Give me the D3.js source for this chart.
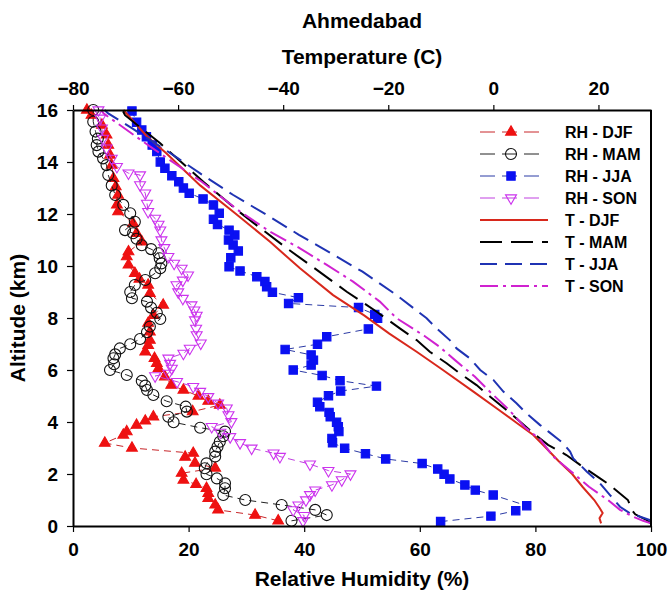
<!DOCTYPE html>
<html>
<head>
<meta charset="utf-8">
<script src="https://cdn.jsdelivr.net/npm/d3@7"></script>
<style>
  body { margin: 0; background: #ffffff; }
</style>
</head>
<body>
<svg id="chart" width="670" height="599"></svg>
<script>
// RH profiles (altitude km, relative humidity %)
const djfAlt = [0.2,0.42,0.62,0.81,1.06,1.26,1.45,1.6,1.77,2.03,2.23,2.42,2.65,2.8,3.0,3.19,3.5,3.63,3.88,4.04,4.2,4.4,4.65,4.8,5.0,5.23,5.42,5.74,6.06,6.26,6.45,6.7,6.95,7.15,7.47,7.8,8.1,8.5,8.95,9.27,9.5,9.72,10.04,10.36,10.55,10.93,11.26,11.64,12.09,12.35,12.73,13.05,13.37,13.88,14.27,14.65,15.04,15.42,15.8,16.0];
const djfRH  = [35.5,31.5,25.1,24.6,23.4,23.4,23.1,21.3,19.1,18.8,24.6,21.1,19.4,20.8,10.2,5.5,8.7,9.3,11.0,12.5,13.9,20.7,25.4,23.4,21.7,19.1,17.0,15.9,14.8,14.5,14.1,12.5,13.0,13.3,13.3,13.0,13.9,15.6,13.3,13.0,11.5,10.7,9.6,9.3,9.6,11.9,11.0,10.4,7.8,7.6,7.8,7.4,7.0,6.7,6.4,6.1,5.8,5.0,3.2,2.4];

const mamAlt = [0.2,0.42,0.62,0.81,1.0,1.19,1.45,1.64,1.83,1.99,2.22,2.41,2.67,2.86,3.05,3.24,3.45,3.63,3.78,3.99,4.2,4.4,4.59,4.8,5.04,5.23,5.4,5.58,5.81,6.0,6.22,6.45,6.6,6.83,6.99,7.19,7.45,7.67,7.96,8.2,8.4,8.63,8.76,9.0,9.27,9.46,9.72,9.91,10.1,10.3,10.49,10.65,10.8,11.05,11.26,11.38,11.7,12.03,12.35,12.73,13.1,13.5,13.88,14.14,14.4,14.65,14.9,15.17,15.55,16.0];
const mamRH  = [37.8,43.9,41.9,36.1,29.8,26.0,26.3,26.3,24.9,23.1,22.8,23.1,24.6,24.6,25.0,25.4,26.0,26.3,22.0,17.4,16.5,19.7,19.5,16.2,13.9,12.8,12.5,11.9,9.3,6.4,7.1,7.0,7.3,8.1,9.9,11.6,12.8,13.3,15.1,14.5,13.5,12.8,10.2,9.9,10.7,12.5,14.2,15.1,15.3,15.0,14.8,13.5,11.9,11.0,10.4,9.0,10.7,9.9,8.7,7.3,6.7,6.1,5.8,5.2,4.4,4.1,4.3,3.9,3.5,3.5];

const jjaAlt = [0.17,0.38,0.59,0.78,1.19,1.38,1.58,1.81,1.99,2.19,2.4,2.58,2.78,2.99,3.2,3.37,3.63,3.82,3.99,4.2,4.37,4.59,4.76,5.01,5.19,5.38,5.59,5.79,6.0,6.19,6.38,6.58,6.79,6.99,7.28,7.58,7.99,8.14,8.4,8.56,8.78,8.99,9.2,9.4,9.59,9.81,9.97,10.32,10.58,10.81,11.0,11.19,11.38,11.6,11.8,12.03,12.35,12.58,12.8,13.0,13.24,13.47,13.76,14.0,14.4,14.65,14.97,15.23,15.53,15.96];
const jjaRH  = [63.6,72.3,76.6,78.5,72.7,69.6,67.8,65.2,64.2,63.1,60.4,54.1,50.6,47.0,44.9,44.8,46.0,45.9,45.6,44.5,44.3,42.7,42.3,44.2,46.3,52.5,46.2,43.1,38.1,41.2,41.6,41.2,36.7,42.3,43.9,51.1,52.7,52.2,49.4,37.3,39.0,34.5,33.5,33.2,31.8,28.9,27.0,27.3,28.6,27.7,26.9,28.0,27.0,25.0,24.3,25.3,24.3,22.5,20.1,19.1,18.3,17.1,15.9,15.1,14.5,13.7,12.7,11.9,11.0,10.2];

const sonAlt = [0.2,0.4,0.62,0.8,1.0,1.2,1.38,1.58,1.77,2.0,2.13,2.38,2.67,2.8,2.99,3.2,3.43,3.6,3.82,4.01,4.27,4.53,4.72,4.97,5.17,5.36,5.55,5.77,5.87,6.06,6.25,6.45,6.64,6.83,7.03,7.35,7.6,7.92,8.1,8.3,8.5,8.75,9.0,9.27,9.45,9.65,9.91,10.1,10.36,10.7,11.0,11.38,11.6,11.83,12.09,12.41,12.8,13.12,13.5,13.57,13.82,14.14,14.53,14.91,15.3,15.68,16.0];
const sonRH  = [39.8,40.0,38.1,39.0,40.3,41.0,41.9,44.8,46.5,48.0,44.2,41.0,35.8,34.7,30.9,28.9,27.2,25.5,24.0,27.4,26.9,26.6,25.1,23.4,22.0,20.8,18.0,14.2,16.5,17.1,16.8,16.5,19.1,20.2,22.1,21.4,21.3,21.1,21.4,21.0,20.5,19.0,18.2,17.9,19.0,19.9,18.8,17.5,16.5,15.8,15.3,15.1,14.8,14.2,13.0,12.8,12.5,11.6,11.6,9.6,7.6,6.7,5.8,5.2,5.0,4.7,4.4];

// temperature profiles (altitude km, temperature C)
const tDjfAlt = [0.1,0.3,0.5,0.7,1.0,1.5,2.0,2.5,3.05,3.5,4.0,4.5,5.17,6.0,6.7,7.4,8.1,8.88,9.91,10.93,12.09,13.1,14.33,15.0,16.0];
const tDjf    = [20.5,20.2,20.8,20.2,19.2,17.0,15.0,12.4,9.8,7.6,4.2,0.8,-3.8,-9.6,-14.6,-19.8,-24.6,-30.5,-36.8,-42.5,-49.5,-55.8,-62.2,-66.0,-70.4];

const tMamAlt = [0.1,0.25,0.45,0.6,1.0,1.6,1.83,2.35,2.73,3.12,3.57,4.01,4.46,4.97,5.42,5.87,6.26,6.7,7.15,7.6,8.24,9.01,9.85,10.68,11.62,12.09,13.24,14.72,15.8,16.0];
const tMam    = [30.0,29.0,27.0,26.4,25.6,22.0,20.3,16.5,13.9,10.4,7.6,5.1,2.5,-0.6,-3.2,-6.4,-8.9,-12.1,-14.6,-17.8,-22.2,-27.9,-33.6,-39.3,-45.4,-48.4,-55.2,-63.4,-70.1,-70.6];

const tJjaAlt = [0.1,0.23,0.49,0.74,1.19,1.64,2.09,2.35,2.6,2.86,3.18,3.63,3.88,4.33,4.72,5.17,5.62,6.0,6.45,6.83,7.15,7.6,7.99,8.88,9.78,10.5,11.2,11.96,12.73,13.56,14.14,14.65,15.3,15.87,16.0];
const tJja    = [30.0,29.8,26.0,24.1,22.2,20.3,17.8,16.5,15.2,14.6,13.3,10.5,8.9,6.3,4.4,1.9,0.0,-2.5,-4.5,-7.0,-8.3,-10.8,-12.7,-18.4,-24.9,-31.0,-37.0,-43.1,-49.5,-55.8,-60.0,-63.8,-68.8,-73.3,-74.0];

const tSonAlt = [0.1,0.2,0.36,0.62,1.0,1.51,2.03,2.67,3.31,3.82,4.46,5.23,5.74,6.38,6.9,7.28,7.99,8.63,9.4,10.04,10.68,11.32,12.09,13.24,14.59,15.87,16.0];
const tSon    = [30.0,28.5,26.6,24.1,21.8,18.2,15.2,11.4,9.0,5.9,3.0,-1.0,-3.5,-7.3,-10.3,-12.9,-18.4,-21.6,-26.7,-31.7,-36.8,-42.5,-48.2,-55.5,-65.3,-74.2,-74.6];

const rhTicks = [0, 20, 40, 60, 80, 100];
const tempTicks = [-80, -60, -40, -20, 0, 20];
const altTicks = [0, 2, 4, 6, 8, 10, 12, 14, 16];

const FONT = "Liberation Sans, Arial, sans-serif";

const svg = d3.select("#chart")
  .attr("font-family", FONT)
  .attr("font-weight", "bold");
const width = +svg.attr("width");
const height = +svg.attr("height");
const margin = { top: 110, right: 19, bottom: 73, left: 73 };
const innerWidth = width - margin.left - margin.right;
const innerHeight = height - margin.top - margin.bottom;

const xScale = d3.scaleLinear().domain([0, 100]).range([0, innerWidth]);
const tScale = d3.scaleLinear().domain([-80, 30]).range([0, innerWidth]);
const yScale = d3.scaleLinear().domain([0, 16]).range([innerHeight, 0]);

const g = svg.append("g").attr("transform", `translate(${margin.left}, ${margin.top})`);

const rhSeries = [
  { name: "RH - DJF", alt: djfAlt, val: djfRH, line: "#c8262a", marker: "triangle", fill: "#ee1111", stroke: "#ee1111" },
  { name: "RH - MAM", alt: mamAlt, val: mamRH, line: "#222222", marker: "circle", fill: "none", stroke: "#111111" },
  { name: "RH - JJA", alt: jjaAlt, val: jjaRH, line: "#2b3aa5", marker: "square", fill: "#0a10f2", stroke: "#0a10f2" },
  { name: "RH - SON", alt: sonAlt, val: sonRH, line: "#c040e0", marker: "down", fill: "none", stroke: "#cc33ee" }
];
const tSeries = [
  { name: "T - DJF", alt: tDjfAlt, val: tDjf, color: "#d8281c", dash: null },
  { name: "T - MAM", alt: tMamAlt, val: tMam, color: "#000000", dash: "22,9" },
  { name: "T - JJA", alt: tJjaAlt, val: tJja, color: "#1f33b3", dash: "17,8" },
  { name: "T - SON", alt: tSonAlt, val: tSon, color: "#d022d0", dash: "18,5,3,5" }
];

const markerPath = (type) => {
  if (type === "triangle") return d3.symbol(d3.symbolTriangle, 50)();
  if (type === "square") return d3.symbol(d3.symbolSquare, 70)();
  if (type === "down") return d3.symbol(d3.symbolTriangle, 52)();
  return null;
};

const drawMarker = (sel, s) => {
  if (s.marker === "circle") {
    sel.append("circle").attr("r", 5.5)
      .attr("fill", "none").attr("stroke", s.stroke).attr("stroke-width", 1.1);
  } else {
    sel.append("path").attr("d", markerPath(s.marker))
      .attr("transform", s.marker === "down" ? "rotate(180)" : null)
      .attr("fill", s.fill).attr("stroke", s.stroke).attr("stroke-width", 1.1);
  }
};

// RH series
rhSeries.forEach(s => {
  const pts = s.alt.map((a, i) => [s.val[i], a]);
  const line = d3.line().x(d => xScale(d[0])).y(d => yScale(d[1]));
  g.append("path").datum(pts)
    .attr("d", line)
    .attr("fill", "none")
    .attr("stroke", s.line)
    .attr("stroke-width", 1)
    .attr("stroke-dasharray", "7,5");
  g.append("g").selectAll("g")
    .data(pts)
    .enter()
    .append("g")
    .attr("transform", d => `translate(${xScale(d[0])}, ${yScale(d[1])})`)
    .each(function () { drawMarker(d3.select(this), s); });
});

// temperature series
tSeries.forEach(s => {
  const pts = s.alt.map((a, i) => [s.val[i], a]);
  const line = d3.line().x(d => tScale(d[0])).y(d => yScale(d[1]));
  g.append("path").datum(pts)
    .attr("d", line)
    .attr("fill", "none")
    .attr("stroke", s.color)
    .attr("stroke-width", 2)
    .attr("stroke-dasharray", s.dash);
});

// axes
const styleAxis = (ax) => {
  ax.attr("font-family", FONT).attr("font-size", 19).attr("font-weight", "bold");
  ax.selectAll("text").attr("fill", "#000");
  ax.selectAll(".domain").attr("stroke-width", 2);
  ax.selectAll(".tick line").attr("stroke-width", 1.2);
};

const xAxisG = g.append("g")
  .attr("transform", `translate(0, ${innerHeight})`)
  .call(d3.axisBottom(xScale).tickValues(rhTicks).tickSize(6).tickSizeOuter(0).tickPadding(11));
styleAxis(xAxisG);

const tAxisG = g.append("g")
  .call(d3.axisTop(tScale).tickValues(tempTicks).tickSize(5).tickSizeOuter(0).tickPadding(10));
styleAxis(tAxisG);

const yAxisG = g.append("g")
  .call(d3.axisLeft(yScale).tickValues(altTicks).tickSize(6).tickSizeOuter(0).tickPadding(9));
styleAxis(yAxisG);

g.append("line")
  .attr("x1", innerWidth).attr("x2", innerWidth)
  .attr("y1", 0).attr("y2", innerHeight)
  .attr("stroke", "#000").attr("stroke-width", 2);

// titles
const cx = margin.left + innerWidth / 2;
svg.append("text").attr("x", cx).attr("y", 28).attr("text-anchor", "middle")
  .attr("font-size", 21).text("Ahmedabad");
svg.append("text").attr("x", cx).attr("y", 64).attr("text-anchor", "middle")
  .attr("font-size", 21).text("Temperature (C)");
svg.append("text").attr("x", cx).attr("y", 586).attr("text-anchor", "middle")
  .attr("font-size", 21).text("Relative Humidity (%)");
svg.append("text")
  .attr("transform", `translate(25, ${margin.top + innerHeight / 2}) rotate(-90)`)
  .attr("text-anchor", "middle")
  .attr("font-size", 21).text("Altitude (km)");

// legend
const legend = svg.append("g");
const allItems = rhSeries.map(s => ({ ...s, kind: "rh" })).concat(tSeries.map(s => ({ ...s, kind: "t" })));
allItems.forEach((s, i) => {
  const y = 132 + i * 22;
  const row = legend.append("g").attr("transform", `translate(0, ${y})`);
  if (s.kind === "rh") {
    row.append("line").attr("x1", 480).attr("x2", 542).attr("y1", 0).attr("y2", 0)
      .attr("stroke", s.line).attr("stroke-width", 1).attr("stroke-dasharray", "15,7");
    const m = row.append("g").attr("transform", "translate(511, 0)");
    drawMarker(m, s);
  } else {
    row.append("line").attr("x1", 480).attr("x2", 548).attr("y1", 0).attr("y2", 0)
      .attr("stroke", s.color).attr("stroke-width", 2).attr("stroke-dasharray", s.dash);
  }
  row.append("text").attr("x", 565).attr("y", 6).attr("font-size", 16).text(s.name);
});
</script>
</body>
</html>
